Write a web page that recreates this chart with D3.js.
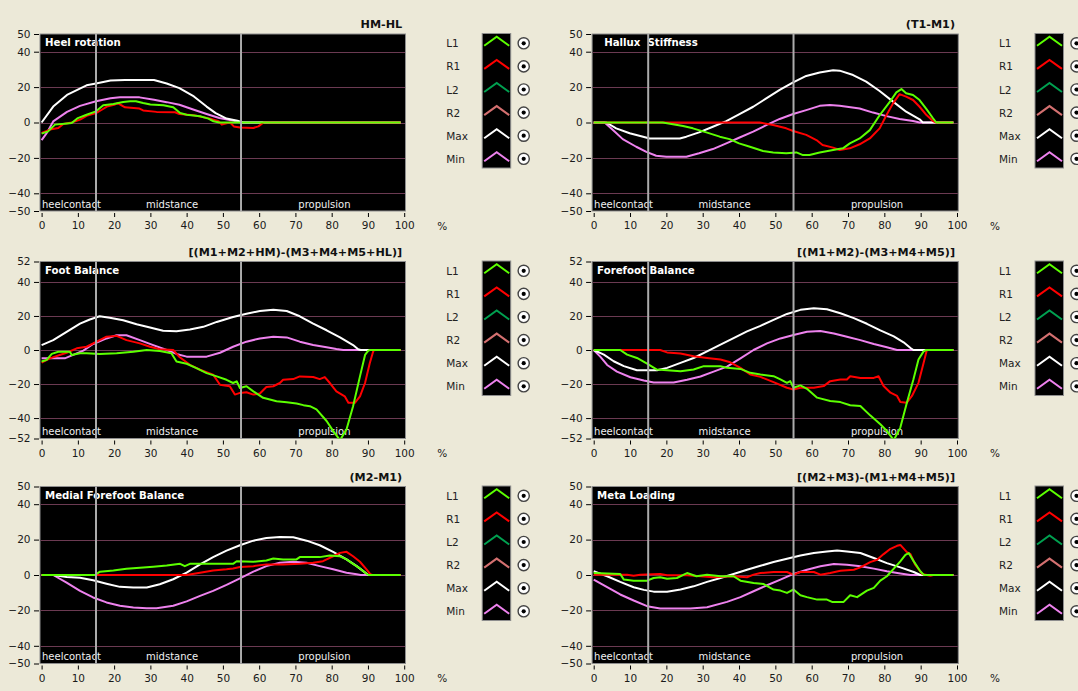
<!DOCTYPE html>
<html><head><meta charset="utf-8">
<script src="https://cdn.jsdelivr.net/npm/d3@7"></script>
<style>
html,body{margin:0;padding:0;background:#ECE9D8;}
svg{display:block;font-family:"DejaVu Sans",sans-serif;}
</style></head><body>
<svg id="chart" width="1078" height="691"></svg>
<script>
// ---- axis ticks & labels ----
const xTicks = [0,10,20,30,40,50,60,70,80,90,100];
const yTicks50 = [50,40,20,0,-20,-40,-50];
const yTicks52 = [52,40,20,0,-20,-40,-52];
const phaseLabels = ["heelcontact","midstance","propulsion"];
const phaseBounds = [15,55];
const legendNames = ["L1","R1","L2","R2","Max","Min"];
const legendColors = ["#5cff00","#ff0000","#00a050","#d47070","#ffffff","#ee82ee"];

// ---- series: [% of stance, value] ----
const heelMax = [[0,0],[3.2,9],[7,15.6],[12.4,21],[15,22],[19,23.7],[23,24],[31,24],[34.5,22],[38,19.4],[42,14.7],[45.5,9],[48,5.3],[51,2.2],[54,1],[55.5,0],[99,0]];
const heelMin = [[0,-10],[1.4,-6],[3.2,0.6],[7,6],[10.6,9.4],[15,12],[19,13.7],[21.6,14.2],[27,14.2],[31,12.8],[34.5,11.5],[38,10],[42,7.2],[45.5,4.8],[49,2.5],[53,1],[55,0],[99,0]];
const heelL1 = [[0,-6.3],[1.8,-5],[3.7,-1.2],[7,-0.5],[8.3,-0.3],[10,2.5],[12.4,4.4],[15,6.3],[17,9.7],[19.8,10.4],[22.5,11.6],[24.4,12],[26,12],[28,11],[30,10.2],[33.6,9.7],[36.3,8.6],[38.2,5.4],[40,4.4],[43.7,3.5],[46,2.2],[47.4,0.7],[49,0],[99,0]];
const heelR1 = [[0,-5.9],[2.3,-4],[4.6,-3.1],[6,-0.8],[8.3,0],[10.6,1.6],[12.4,3.8],[15,5.3],[16.6,7.2],[18,9],[20,10],[21,11],[23,8.6],[27,7.9],[28,6.8],[31.7,6],[36.8,5.8],[38,4.8],[42,4.1],[46.5,2.2],[48.8,0.7],[49.7,-1.2],[51,-0.5],[52,0],[53,-2.2],[54.7,-2.8],[58.4,-3.1],[59.8,-2.2],[61.2,0],[99,0]];

const halluxMax = [[0,0],[3.5,0],[6.2,-3.3],[9.9,-6.1],[13.6,-8],[15.4,-9],[23.7,-9],[25.5,-8],[29,-5.6],[32.8,-2.4],[36.5,0.8],[40,4.6],[43.9,8.9],[47.5,13.6],[51.2,18.4],[54.9,22.7],[58.5,26.3],[62.2,28.3],[65.9,29.5],[67.7,29.3],[71.4,26.8],[75,23.1],[78.7,17.8],[82.4,11.8],[86,6.1],[89.7,1.8],[90.6,0],[99,0]];
const halluxMin = [[0,0],[3,0],[5.3,-4.3],[8,-9.4],[11.7,-13.7],[14.5,-16.6],[17.2,-18.8],[20,-19.3],[25.5,-19.3],[29,-17.4],[32.8,-15],[36.5,-11.8],[40,-8.6],[43.9,-5.2],[47.5,-1.5],[51.2,2],[54.9,4.8],[58.5,7],[62.2,9.4],[65,9.9],[67.7,9.4],[73.2,7.9],[76.9,5.6],[80.6,3.6],[84.2,2],[87.9,0.8],[89.7,0],[99,0]];
const halluxL1 = [[0,0],[19,0],[21.8,-1],[24.6,-2],[27.3,-3.3],[31,-5.6],[34.7,-8],[37.4,-9.4],[40,-11.8],[43,-13.7],[46.6,-16.1],[49.4,-16.9],[53,-17.4],[55.8,-16.9],[57.6,-18.4],[59.4,-18.4],[62.2,-16.9],[65.9,-15.5],[68.6,-14.6],[70.5,-11.8],[73.2,-9],[76,-4.3],[78.7,4.1],[81.5,11.6],[83.3,17],[84.7,18.9],[86,16.5],[87.9,15.5],[89.7,12.7],[91.6,7.6],[93.4,2.4],[94.3,0],[99,0]];
const halluxR1 = [[0,0],[45.7,0],[49.4,-1.4],[53,-3.3],[54.9,-4.8],[58.5,-7],[61.3,-9.9],[63,-12.7],[65.9,-14.2],[67.7,-15.5],[70.5,-14.6],[73.2,-12.3],[76,-9],[78.7,-3.3],[80.6,4.2],[82.4,10.8],[84.2,16],[86,14.6],[87.9,12.7],[89.7,8.9],[91.6,4.2],[93.4,0.8],[94.3,0],[99,0]];

const footMax = [[0,2.9],[3.2,5.8],[6.9,10.7],[10.6,15.5],[13.3,17.9],[16,19.8],[18.8,19],[22.5,17.5],[26.2,15.1],[29.9,13.2],[33.5,11.3],[37.2,11],[40.9,12],[44.6,13.6],[48.3,16.5],[52.8,19.4],[56.5,21.3],[60.2,22.9],[63.9,23.7],[67.6,22.9],[71.2,19.8],[74.9,15.5],[78.6,11.6],[82.3,7.4],[85.9,2.9],[87.3,0.4],[88,0],[99,0]];
const footMin = [[0,-4.9],[6.4,-4.9],[8.7,-2.9],[11.5,-0.4],[14.2,3.5],[17.9,6.8],[20.7,8.7],[23.4,8.7],[27.1,5.8],[30.8,2.9],[34.5,0],[37.2,-2.3],[40,-3.9],[45.5,-3.9],[49.2,-1.6],[52.8,1.9],[56.5,4.9],[60.2,6.8],[63.9,7.8],[67.6,7.4],[71.2,4.9],[74.9,2.9],[78.6,1.6],[81.3,0.6],[83.2,0],[99,0]];
const footL1 = [[0,-6.8],[1.4,-5.8],[2.8,-2.3],[4.6,-1],[7.8,-1],[8.3,-2.9],[10.6,-1.9],[12.4,-1.9],[16,-2.3],[20.7,-1.9],[25.3,-1],[29,0],[32.6,-0.6],[35.8,-1.9],[37.2,-6.8],[40,-8.1],[42.7,-10.7],[45.5,-13.6],[48.3,-15.5],[51,-17.5],[52.8,-19.4],[53.8,-18.4],[54.7,-22.3],[56.5,-21.3],[58.4,-24.3],[61.1,-28.1],[64.8,-30.1],[67.6,-30.7],[70.3,-31.4],[72.2,-32.4],[74,-33],[75.8,-34.9],[78.6,-41.7],[80.4,-47.5],[82.3,-53],[84.1,-46.6],[85.9,-33],[87.8,-15.5],[89.2,-2.9],[90.1,-0.4],[90.6,0],[99,0]];
const footR1 = [[0,-7.4],[2.3,-4.9],[5,-2.9],[6.9,-1.6],[9.7,1],[12.4,1.9],[15.2,4.9],[17.9,7.8],[20.7,8.3],[23.4,5.8],[27.1,3.9],[29.9,1.9],[32.6,0.4],[36.3,0],[38.1,-4.3],[40.9,-8.7],[43.7,-11.6],[47.3,-14.5],[49.2,-20.4],[51.9,-21.3],[53.3,-26.2],[54.7,-25.2],[56.5,-24.8],[58.4,-26.2],[60.2,-25.6],[62,-21.7],[63.9,-21.3],[65.7,-19.4],[66.6,-17.5],[69.4,-17.1],[71.2,-15.5],[74.9,-15.9],[76.7,-17.1],[78.1,-15.9],[79.5,-19.4],[81.3,-24.3],[83.6,-27.2],[84.6,-31],[86.4,-31],[87.8,-27.2],[89.2,-19.4],[90.5,-7.8],[91.5,-0.4],[92,0],[99,0]];

const forefootMax = [[0,0],[2.8,-2.7],[5.5,-6.6],[8.3,-9.5],[11.9,-11.9],[17.4,-11.9],[20.2,-10.5],[23.9,-7.6],[27.5,-4.7],[31.2,-0.8],[34.9,3.1],[38.5,7],[42.2,10.9],[45.9,14.2],[49.5,17.7],[53.2,21.2],[56.9,23.6],[60.6,24.5],[64.2,23.9],[67.9,21.6],[71.6,18.7],[75.2,15.4],[78.9,11.5],[82.6,8],[85.3,4.5],[87.2,1.2],[88,0],[99,0]];
const forefootMin = [[0,0],[1.8,-3.9],[3.7,-8.8],[6.4,-12.7],[10.1,-16],[13.8,-17.9],[16.5,-19.1],[22,-19.1],[25.7,-17.5],[29.4,-15.6],[33,-12.7],[36.7,-9.8],[40.4,-4.9],[44,0],[47.7,3.9],[51.4,6.8],[55,8.8],[58.7,10.7],[62.4,11.1],[66.1,9.7],[69.7,7.8],[73.4,5.8],[77.1,3.5],[80.7,1.6],[83.5,0],[99,0]];
const forefootL1 = [[0,0],[7.3,0],[9.2,-2.7],[11.9,-4.7],[14.7,-8],[17.4,-11.5],[20.2,-11.9],[23.9,-12.5],[27.5,-11.5],[30.3,-9.5],[34.9,-9.5],[36.7,-10.5],[40.4,-11.1],[43.1,-13.4],[45.9,-14.4],[49.5,-15.4],[51.4,-17.3],[53.2,-19.3],[54.1,-18.3],[55,-22.2],[56.9,-20.8],[58.7,-22.8],[61.5,-28],[65.1,-30],[67.9,-30.6],[70.6,-32.5],[73.4,-32.9],[76.1,-38.4],[78.9,-43.6],[80.7,-47.5],[82.6,-53],[84.4,-45.6],[86.2,-31],[88,-17.3],[89.4,-5.6],[90.8,-0.8],[91.5,0],[99,0]];
const forefootR1 = [[0,0],[18.3,0],[20.2,-1.4],[23.9,-2.1],[27.5,-3.7],[31.2,-4.7],[34.9,-5.6],[37.6,-7.2],[40.4,-10.5],[43.1,-14.4],[45.9,-15.8],[49.5,-18.9],[53.2,-22.2],[55,-23.2],[56.9,-22.2],[60.6,-22.2],[63.3,-21.2],[65.1,-18.3],[67.9,-17.3],[69.7,-17.3],[70.6,-15.4],[73.4,-16.4],[77.1,-16.4],[78.4,-15.4],[79.8,-21.2],[81.7,-25.1],[83.5,-27],[84.4,-30.6],[86.2,-31],[87.6,-27],[89.4,-19.3],[90.8,-7.6],[91.7,0],[99,0]];

const medialMax = [[0,0],[3.2,0],[6.9,-1.1],[10.6,-1.5],[14.2,-3],[17.9,-4.9],[21.6,-6.7],[25.3,-7.1],[29,-7.1],[32.6,-5.2],[36.3,-2.4],[40,1.3],[43.7,6],[47.3,10.1],[51,13.8],[54.7,16.8],[58.4,19.4],[62,20.9],[65.7,21.5],[69.4,21.3],[73.1,19.4],[76.7,16.8],[80.4,13.1],[84.1,8.8],[86.9,5],[88.7,2.2],[90.1,0],[99,0]];
const medialMin = [[0,0],[3.2,0],[6.9,-4.3],[10.6,-9],[14.2,-12.7],[17.9,-15.5],[21.6,-17.4],[25.3,-18.3],[29,-18.8],[31.7,-18.8],[36.3,-17.4],[40,-14.9],[43.7,-11.8],[47.3,-9],[51,-5.6],[54.7,-1.9],[58.4,1.9],[62,5],[65.7,6.9],[69.4,7.5],[73.1,6.9],[76.7,5],[80.4,3.2],[84.1,1.3],[86.9,0.4],[88,0],[99,0]];
const medialL1 = [[0,0],[14.7,0],[16.1,1.9],[19.8,2.6],[23.4,3.5],[27.1,4.1],[30.8,4.7],[34.5,5.4],[38.2,6.3],[39.5,5],[40.9,6.3],[52.8,6.3],[53.8,7.8],[58.4,7.5],[62,8.2],[63.9,9.3],[66.6,8.8],[70.3,8.8],[71.2,10.1],[76.7,10.1],[79.5,11],[82.3,10.6],[84.1,8.8],[85.9,6.3],[87.8,3.7],[89.6,0.7],[90.2,0],[99,0]];
const medialR1 = [[0,0],[40,0],[43.7,1.3],[47.3,2.6],[51,3.2],[52.8,3.7],[54.7,4.5],[58.4,5],[62,6],[66.6,6],[71.2,6.3],[74.9,6.9],[77.6,7.8],[80.4,10.6],[82.3,12.5],[84.1,13.1],[85.9,10.6],[87.8,7.5],[89.6,3.2],[90.7,0.4],[91.2,0],[99,0]];

const metaMax = [[0,2.1],[3.7,-0.7],[7.3,-3.9],[11,-6.9],[13.8,-8.4],[16.5,-9.4],[20.2,-9.4],[23.9,-8.2],[27.5,-6.4],[31.2,-3.9],[34.9,-1.7],[38.5,0.6],[42.2,3],[45.9,5.2],[49.5,7.3],[53.2,9.2],[56.9,11],[60.6,12.4],[64.2,13.3],[67,13.9],[69.7,13.3],[73.4,12.4],[77.1,9.6],[80.7,6.7],[84.4,4.3],[88.1,1.7],[89.9,0],[99,0]];
const metaMin = [[0,-2.6],[3.7,-6.9],[7.3,-11],[11,-14.4],[14.7,-17.6],[18.3,-18.9],[26.6,-18.9],[31.2,-18.2],[36.7,-15.2],[40.4,-12.5],[44,-9.2],[47.7,-5.8],[51.4,-2.6],[55,0.6],[58.7,3],[62.4,4.9],[66.1,6.2],[69.7,5.8],[73.4,4.9],[77.1,3.6],[80.7,2.1],[84.4,0.9],[87.2,0],[99,0]];
const metaL1 = [[0,1.1],[7.3,0.6],[8.3,-2.6],[11,-3.2],[14.7,-3.2],[16.5,-1.7],[18.3,-1.3],[20.2,-2.1],[22.9,-1.7],[24.8,0.2],[25.7,1.1],[28.3,-0.7],[31.2,0.2],[34.9,-0.7],[38.5,-0.7],[40.4,-3.2],[44,-4.5],[46.8,-5.1],[49.5,-8.2],[51.4,-8.8],[53.2,-10.1],[55,-8.2],[56.9,-11.4],[58.7,-12.5],[61.5,-13.9],[64.2,-13.9],[65.6,-15.2],[68.8,-15.2],[70.6,-11.4],[72.5,-12.5],[75.2,-8.8],[77.1,-7.3],[78.9,-3.2],[80.7,-0.7],[82.6,3.6],[84.4,7.7],[85.8,11.4],[86.7,12.4],[88.1,7.7],[89.9,2.1],[90.8,0.2],[91.5,0],[99,0]];
const metaR1 = [[0,0.2],[9.2,0.2],[11,-0.4],[12.8,0.2],[18.3,0.6],[20.2,-0.2],[25.7,-0.2],[29.4,-0.7],[33,-1.3],[38.5,-0.7],[42.2,-1.3],[44,0.2],[45.9,1.1],[49.5,1.7],[53.2,1.7],[55,0.2],[56.9,1.7],[60.6,1.7],[62.4,0.2],[65.1,1.1],[67.9,2.4],[71.6,3],[73.4,4.3],[76.1,7.3],[78,8.6],[79.8,11.8],[81.7,14.8],[83.5,16.5],[84.4,17],[86.2,12.9],[87.2,11.8],[88.5,5.8],[90.4,0.6],[92.7,-0.4],[93.5,0],[99,0]];

// ---- panel table ----
const panels = [
  {name:"Heel rotation", formula:"HM-HL", yTicks:yTicks50, col:0, row:0, L1:heelL1, R1:heelR1, Max:heelMax, Min:heelMin},
  {name:"  Hallux  Stiffness", formula:"(T1-M1)", yTicks:yTicks50, col:1, row:0, L1:halluxL1, R1:halluxR1, Max:halluxMax, Min:halluxMin},
  {name:"Foot Balance", formula:"[(M1+M2+HM)-(M3+M4+M5+HL)]", yTicks:yTicks52, col:0, row:1, L1:footL1, R1:footR1, Max:footMax, Min:footMin},
  {name:"Forefoot Balance", formula:"[(M1+M2)-(M3+M4+M5)]", yTicks:yTicks52, col:1, row:1, L1:forefootL1, R1:forefootR1, Max:forefootMax, Min:forefootMin},
  {name:"Medial Forefoot Balance", formula:"(M2-M1)", yTicks:yTicks50, col:0, row:2, L1:medialL1, R1:medialR1, Max:medialMax, Min:medialMin},
  {name:"Meta Loading", formula:"[(M2+M3)-(M1+M4+M5)]", yTicks:yTicks50, col:1, row:2, L1:metaL1, R1:metaR1, Max:metaMax, Min:metaMin}
];

// ---- layout ----
const colRange = [[41.6, 404.2], [593.7, 957]];
const rowTop = [34, 261.5, 486.5];
const plotH = 177;
const colorOf = Object.fromEntries(legendNames.map((n,i)=>[n, legendColors[i]]));
const drawOrder = ["Min","Max","R1","L1"];

const svg = d3.select("#chart");
svg.append("rect").attr("width",1078).attr("height",691).attr("fill","#ECE9D8");

panels.forEach((p, pi) => {
  const top = rowTop[p.row], bottom = top + plotH;
  const x = d3.scaleLinear().domain([0,100]).range(colRange[p.col]);
  const y = d3.scaleLinear().domain([p.yTicks[p.yTicks.length-1], p.yTicks[0]]).range([bottom, top]);
  const left = x(0) - 1.6, right = x(100) + 1.3;
  const g = svg.append("g");

  // plot background
  g.append("rect").attr("x", left).attr("y", top).attr("width", right-left).attr("height", plotH)
    .attr("fill","#000").attr("stroke","#8e8e8e").attr("stroke-width",1);

  const clipId = "clip" + pi;
  g.append("clipPath").attr("id", clipId).append("rect")
    .attr("x", left).attr("y", top).attr("width", right-left).attr("height", plotH);

  // horizontal grid
  g.selectAll(".grid").data(p.yTicks.slice(1,-1)).join("line")
    .attr("x1", left+0.5).attr("x2", right-0.5)
    .attr("y1", d=>Math.round(y(d))+0.5).attr("y2", d=>Math.round(y(d))+0.5)
    .attr("stroke","#6b3a52").attr("stroke-width",1);

  // panel name
  g.append("text").attr("x", left + 5).attr("y", top + 12)
    .attr("fill","#fff").attr("font-weight","bold").attr("font-size","10.2px")
    .style("white-space","pre").text(p.name);

  // phase names
  g.append("text").attr("x", left + 2).attr("y", bottom - 3.5).attr("fill","#f0f0f0")
    .attr("font-size","10px").text(phaseLabels[0]);
  g.append("text").attr("x", x((phaseBounds[0]+phaseBounds[1])/2 + 1)).attr("y", bottom - 3.5)
    .attr("text-anchor","middle").attr("fill","#f0f0f0").attr("font-size","10px").text(phaseLabels[1]);
  g.append("text").attr("x", x((phaseBounds[1]+100)/2 + 0.5)).attr("y", bottom - 3.5)
    .attr("text-anchor","middle").attr("fill","#f0f0f0").attr("font-size","10px").text(phaseLabels[2]);

  // curves
  const line = d3.line().x(d=>x(d[0])).y(d=>y(d[1]));
  const lines = g.append("g").attr("clip-path", `url(#${clipId})`);
  drawOrder.forEach(k => {
    lines.append("path").attr("d", line(p[k])).attr("fill","none")
      .attr("stroke", colorOf[k]).attr("stroke-width", 2).attr("stroke-linejoin","round");
  });

  // phase boundaries
  g.selectAll(".phase").data(phaseBounds).join("line")
    .attr("x1", d=>x(d)).attr("x2", d=>x(d)).attr("y1", top).attr("y2", bottom)
    .attr("stroke","#ababab").attr("stroke-width",2);

  // y axis
  const ya = g.append("g").attr("transform", `translate(${left-0.5},0)`)
    .call(d3.axisLeft(y).tickValues(p.yTicks).tickSize(5).tickPadding(4));
  ya.select(".domain").remove();
  ya.selectAll("line").attr("stroke","#000").attr("transform","translate(-0.5,0)");
  ya.selectAll("text").attr("fill","#1a1a1a").attr("font-size","10.5px").attr("font-family","DejaVu Sans, sans-serif");

  // x axis
  const xa = g.append("g").attr("transform", `translate(0,${bottom+2})`)
    .call(d3.axisBottom(x).tickValues(xTicks).tickSize(4).tickPadding(5));
  xa.select(".domain").remove();
  xa.selectAll("line").attr("stroke","#000");
  xa.selectAll("text").attr("fill","#1a1a1a").attr("font-size","10.5px").attr("font-family","DejaVu Sans, sans-serif");

  g.append("text").attr("x", x(100) + 33).attr("y", bottom + 18.5)
    .attr("fill","#1a1a1a").attr("font-size","10.5px").text("%");

  // formula caption
  g.append("text").attr("x", x(100) - 2).attr("y", top - 6).attr("text-anchor","end")
    .attr("fill","#111").attr("font-weight","bold").attr("font-size","11.2px").text(p.formula);

  // legend
  const lx = x(100);
  g.append("rect").attr("x", lx+78).attr("y", top-0.5).attr("width", 28.5).attr("height", 134.5)
    .attr("fill","#000").attr("stroke","#8e8e8e");
  legendNames.forEach((n, i) => {
    const cy = top + 9.3 + i*23.1;
    g.append("text").attr("x", lx+42).attr("y", cy+4).attr("fill","#222")
      .attr("font-size","10.5px").text(n);
    g.append("path").attr("d", `M${lx+80},${cy+2.5}L${lx+92.5},${cy-6.5}L${lx+105},${cy+2.5}`)
      .attr("fill","none").attr("stroke", legendColors[i]).attr("stroke-width",2);
    g.append("circle").attr("cx", lx+119.5).attr("cy", cy).attr("r", 5.6)
      .attr("fill","#fff").attr("stroke","#444").attr("stroke-width",1.4);
    g.append("circle").attr("cx", lx+119.5).attr("cy", cy).attr("r", 2.1).attr("fill","#000");
  });
});
</script>
</body></html>
